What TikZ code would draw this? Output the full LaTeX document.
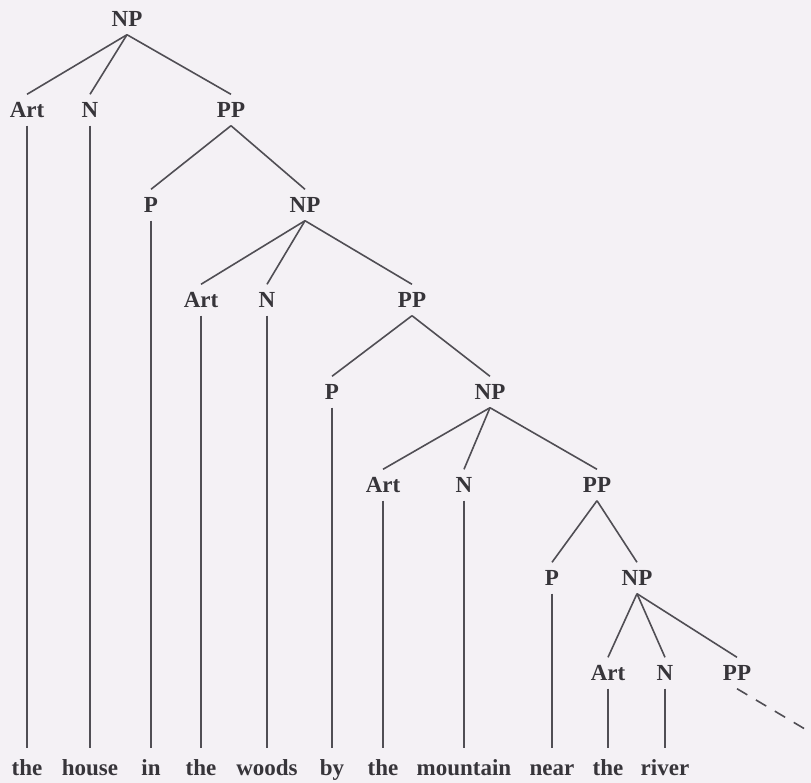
\documentclass[tikz,border=0pt]{standalone}
\usepackage{fontspec}
\setmainfont{Liberation Serif}
\usetikzlibrary{positioning}
\definecolor{inkgray}{RGB}{55,53,58}
\definecolor{linegray}{RGB}{80,78,84}
\definecolor{paper}{RGB}{244,241,245}
\begin{document}
\begin{tikzpicture}[x=0.5pt,y=-0.5pt]
  \tikzstyle{cat}=[inner xsep=1pt,inner ysep=4pt,text height=7.3pt,text depth=0pt,font=\fontsize{11.5}{13}\selectfont\bfseries,text=inkgray]
  \tikzstyle{word}=[anchor=base,inner xsep=1pt,inner ysep=6pt,text height=7.5pt,font=\fontsize{11.5}{13}\selectfont\bfseries,text=inkgray]
  \tikzstyle{branch}=[draw=linegray,line width=0.8pt]

  \fill[paper] (0,0) rectangle (811,783);
  \useasboundingbox (0,0) rectangle (811,783);

  \node[cat] (np0) at (127,19) {NP};
  \node[cat] (art1) at (27,110) {Art};
  \node[cat] (n1) at (90,110) {N};
  \node[cat] (pp1) at (231,110) {PP};
  \node[cat] (p2) at (151,205) {P};
  \node[cat] (np2) at (305,205) {NP};
  \node[cat] (art3) at (201,300) {Art};
  \node[cat] (n3) at (267,300) {N};
  \node[cat] (pp3) at (412,300) {PP};
  \node[cat] (p4) at (332,392) {P};
  \node[cat] (np4) at (490,392) {NP};
  \node[cat] (art5) at (383,485) {Art};
  \node[cat] (n5) at (464,485) {N};
  \node[cat] (pp5) at (597,485) {PP};
  \node[cat] (p6) at (552,578) {P};
  \node[cat] (np6) at (637,578) {NP};
  \node[cat] (art7) at (608,673) {Art};
  \node[cat] (n7) at (665,673) {N};
  \node[cat] (pp7) at (737,673) {PP};

  \coordinate (base) at (0,775);
  \coordinate (tail) at (815,735);

  \node[word] (w1) at (art1 |- base) {the};
  \node[word] (w2) at (n1 |- base) {house};
  \node[word] (w3) at (p2 |- base) {in};
  \node[word] (w4) at (art3 |- base) {the};
  \node[word] (w5) at (n3 |- base) {woods};
  \node[word] (w6) at (p4 |- base) {by};
  \node[word] (w7) at (art5 |- base) {the};
  \node[word] (w8) at (n5 |- base) {mountain};
  \node[word] (w9) at (p6 |- base) {near};
  \node[word] (w10) at (art7 |- base) {the};
  \node[word] (w11) at (n7 |- base) {river};

  \draw[branch] (np0.south) -- (art1.north);
  \draw[branch] (np0.south) -- (n1.north);
  \draw[branch] (np0.south) -- (pp1.north);
  \draw[branch] (pp1.south) -- (p2.north);
  \draw[branch] (pp1.south) -- (np2.north);
  \draw[branch] (np2.south) -- (art3.north);
  \draw[branch] (np2.south) -- (n3.north);
  \draw[branch] (np2.south) -- (pp3.north);
  \draw[branch] (pp3.south) -- (p4.north);
  \draw[branch] (pp3.south) -- (np4.north);
  \draw[branch] (np4.south) -- (art5.north);
  \draw[branch] (np4.south) -- (n5.north);
  \draw[branch] (np4.south) -- (pp5.north);
  \draw[branch] (pp5.south) -- (p6.north);
  \draw[branch] (pp5.south) -- (np6.north);
  \draw[branch] (np6.south) -- (art7.north);
  \draw[branch] (np6.south) -- (n7.north);
  \draw[branch] (np6.south) -- (pp7.north);
  \draw[branch,dash pattern=on 6pt off 5pt] (pp7.south) -- (tail);

  \draw[branch] (art1.south) -- (w1.north);
  \draw[branch] (n1.south) -- (w2.north);
  \draw[branch] (p2.south) -- (w3.north);
  \draw[branch] (art3.south) -- (w4.north);
  \draw[branch] (n3.south) -- (w5.north);
  \draw[branch] (p4.south) -- (w6.north);
  \draw[branch] (art5.south) -- (w7.north);
  \draw[branch] (n5.south) -- (w8.north);
  \draw[branch] (p6.south) -- (w9.north);
  \draw[branch] (art7.south) -- (w10.north);
  \draw[branch] (n7.south) -- (w11.north);
\end{tikzpicture}
\end{document}
